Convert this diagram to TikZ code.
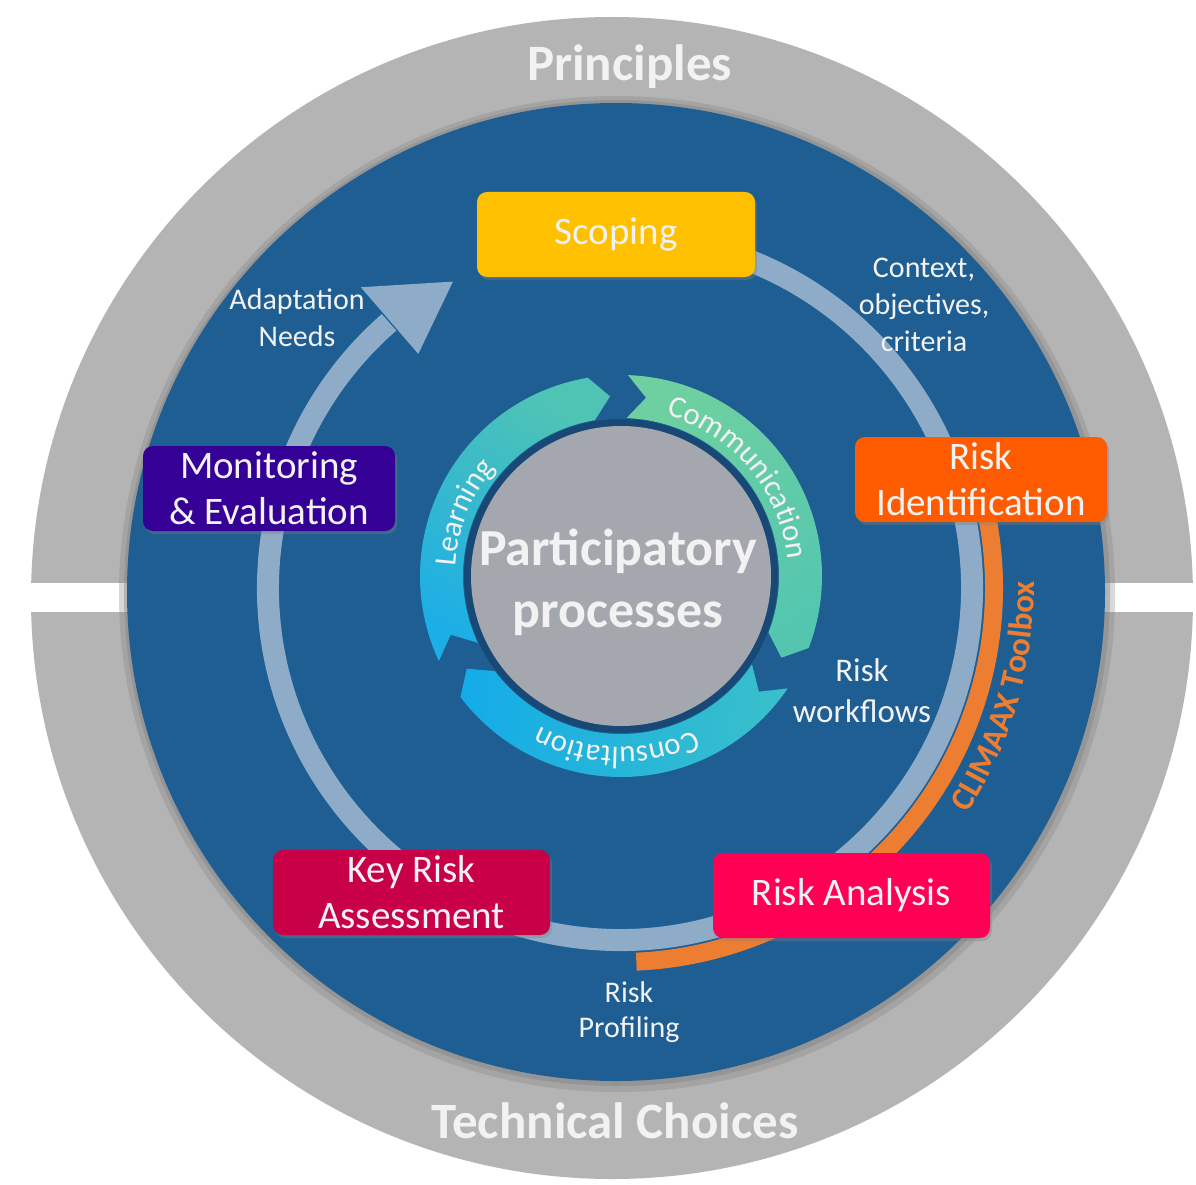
\documentclass[tikz,border=0pt]{standalone}
\usepackage{fontspec}
\setmainfont{Carlito}
\usetikzlibrary{decorations.text, shadows}

\definecolor{discblue}{RGB}{31,94,147}
\definecolor{ringgrey}{RGB}{180,180,180}
\definecolor{cyclelight}{RGB}{142,172,200}
\definecolor{toolorange}{RGB}{237,125,49}
\definecolor{scopeyellow}{RGB}{255,192,0}
\definecolor{identorange}{RGB}{255,91,0}
\definecolor{analysispink}{RGB}{255,0,85}
\definecolor{keyred}{RGB}{200,0,72}
\definecolor{monviolet}{RGB}{52,0,150}
\definecolor{coregrey}{RGB}{164,168,174}
\definecolor{coreedge}{RGB}{24,72,118}
\definecolor{textwhite}{RGB}{242,242,242}
\definecolor{commA}{RGB}{110,208,160}
\definecolor{commB}{RGB}{84,198,176}
\definecolor{consA}{RGB}{58,192,202}
\definecolor{consB}{RGB}{20,172,232}
\definecolor{learnA}{RGB}{28,174,230}
\definecolor{learnB}{RGB}{80,196,180}

\newcommand{\arcfont}{\fontsize{31}{31}\selectfont}

\begin{document}
\begin{tikzpicture}[
    x=1pt, y=1pt,
    stage/.style={rectangle, rounded corners=10pt, minimum width=#1, minimum height=85pt, inner sep=0pt, align=center, text=textwhite, font=\fontsize{39}{46}\selectfont, drop shadow={shadow xshift=2pt, shadow yshift=-3pt, opacity=0.35}},
    note/.style={align=center, inner sep=0pt, text=textwhite, font=\fontsize{30}{37}\selectfont},
    ringtitle/.style={anchor=base, inner sep=0pt, text=textwhite, font=\bfseries\fontsize{51}{51}\selectfont},
    arctext/.style={decorate, decoration={text along path, text align=center, text color=textwhite, text={|\arcfont|#1}}}
]
\useasboundingbox (0,0) rectangle (1196,-1185);
\fill[white] (0,0) rectangle (1196,-1185);

% Outer grey ring, cut by a white band
\fill[ringgrey] (612,-598) circle[radius=581];
\fill[white] (0,-583) rectangle (1196,-612);

% Blue disc with a soft edge
\fill[black!50, opacity=0.3] (617,-594) circle[radius=498];
\fill[black!50, opacity=0.4] (617,-593) circle[radius=493];
\fill[discblue] (616,-592) circle[radius=489];

% Main cycle and toolbox arc
\begin{scope}[shift={(620,-588)}]
    \draw[cyclelight, line width=22pt] (80:352) arc[start angle=80, end angle=-229, radius=352];
    \fill[cyclelight] (130.75:309) -- (118.6:349) -- (130.75:397) -- cycle; % arrow head
    \draw[toolorange, line width=18pt] (12:374) arc[start angle=12, end angle=-87.5, radius=374];
    \path[decorate, decoration={text along path, text align=center, text color=toolorange,
        text={|\bfseries\fontsize{33}{33}\selectfont|CLIMAAX Toolbox}}]
        (-48:414) arc[start angle=-48, end angle=16, radius=414];
\end{scope}

% Participatory core with three arrows
\begin{scope}[shift={(621,-576)}]
    \foreach \t/\h/\ca/\cb/\sa in {88/-27/commA/commB/31, -34/-149/consA/consB/-91, -155/-266.5/learnA/learnB/150} {
        \shade[top color=\ca, bottom color=\cb, shading angle=\sa]
            (\t:201) arc[start angle=\t, end angle=\h+6, radius=201]
            -- (\h:180) -- ({\h+6}:158) arc[start angle=\h+6, end angle=\t, radius=158]
            -- ({\t-6}:180) -- cycle;
    }
    \fill[coreedge] (0,0) circle[radius=157];
    \fill[coregrey] (0,0) circle[radius=150];
    \path[arctext=Learning] (190:166) arc[start angle=190, end angle=126, radius=166];
    \path[arctext=Communication] (85:167) arc[start angle=85, end angle=-5, radius=167];
    \path[arctext=Consultation] (-45:171) arc[start angle=-45, end angle=-138, radius=171];
    \node[align=center, inner sep=0pt, text=textwhite, font=\bfseries\fontsize{52}{62}\selectfont] (core) at (-3,-6) {Participatory\\processes};
\end{scope}

% Stages
\node[stage=278, fill=scopeyellow] (scoping) at (616,-234.5) {Scoping};
\node[stage=252, fill=identorange] (identification) at (981,-479.5) {Risk\\Identification};
\node[stage=277, fill=analysispink] (analysis) at (851.5,-895.5) {Risk Analysis};
\node[stage=277, fill=keyred] (keyrisk) at (411.5,-892.5) {Key Risk\\Assessment};
\node[stage=252, fill=monviolet] (monitoring) at (269,-488.5) {Monitoring\\\& Evaluation};

% Outputs between stages
\node[note] (needs) at (297,-318) {Adaptation\\Needs};
\node[note] (context) at (924,-305) {Context,\\objectives,\\criteria};
\node[note, font=\fontsize{33}{41}\selectfont] (workflows) at (862,-691) {Risk\\workflows};
\node[note, font=\fontsize{30}{35}\selectfont] (profiling) at (629,-1012) {Risk\\Profiling};

% Ring titles
\node[ringtitle] (principles) at (629.5,-81) {Principles};
\node[ringtitle] (technical) at (615,-1138) {Technical Choices};

\end{tikzpicture}
\end{document}
